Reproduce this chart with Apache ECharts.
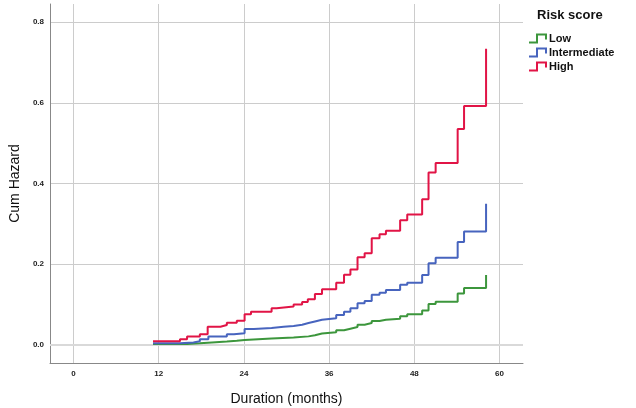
<!DOCTYPE html>
<html>
<head>
<meta charset="utf-8">
<script src="https://cdn.jsdelivr.net/npm/echarts@6/dist/echarts.min.js"></script>
<style>
  html, body { margin: 0; padding: 0; background: #fff; }
  #chart { width: 636px; height: 408px; }
</style>
</head>
<body>
<div id="chart"></div>
<script>
// month ticks and hazard ticks
const xTicks = [0, 12, 24, 36, 48, 60]
const yTicks = [0, 0.2, 0.4, 0.6, 0.8]

const groups = ['Low', 'Intermediate', 'High']
const colors = ['#3c963c', '#4764be', '#e11446']

// [month, cumulative hazard] step points
const lowData = [
  [11.2, 0.002], [16.0, 0.004], [17.8, 0.006], [19.5, 0.008], [21.6, 0.010],
  [23.0, 0.012], [24.1, 0.016], [27.9, 0.018], [31.0, 0.021], [33.1, 0.024],
  [34.0, 0.028], [35.0, 0.031], [37.0, 0.036], [38.1, 0.040], [39.0, 0.044],
  [40.0, 0.050], [41.0, 0.054], [42.0, 0.059], [43.1, 0.062], [44.0, 0.065],
  [46.0, 0.071], [47.0, 0.076], [49.1, 0.085], [50.0, 0.101], [51.0, 0.107],
  [54.1, 0.127], [55.0, 0.141], [58.1, 0.173]
]
const midData = [
  [11.2, 0.004], [15.0, 0.006], [16.9, 0.009], [17.8, 0.014], [19.0, 0.021],
  [21.6, 0.026], [22.6, 0.029], [24.1, 0.039], [25.4, 0.042], [27.9, 0.045],
  [29.6, 0.047], [31.0, 0.050], [32.2, 0.054], [33.1, 0.058], [34.0, 0.062],
  [35.0, 0.066], [37.0, 0.074], [38.1, 0.082], [39.0, 0.091], [40.0, 0.103],
  [41.0, 0.109], [42.0, 0.124], [43.1, 0.129], [44.0, 0.136], [46.0, 0.149],
  [47.0, 0.154], [49.1, 0.173], [50.0, 0.202], [51.0, 0.216], [54.1, 0.255],
  [55.0, 0.281], [58.1, 0.350]
]
const highData = [
  [11.2, 0.009], [15.0, 0.014], [16.0, 0.021], [17.8, 0.026], [18.9, 0.045],
  [20.7, 0.049], [21.6, 0.055], [23.0, 0.060], [24.1, 0.076], [25.0, 0.082],
  [27.9, 0.091], [28.6, 0.095], [31.0, 0.100], [32.2, 0.106], [33.0, 0.113],
  [34.0, 0.126], [35.0, 0.138], [37.0, 0.154], [38.1, 0.174], [39.0, 0.187],
  [40.0, 0.217], [41.0, 0.227], [42.0, 0.264], [43.1, 0.274], [44.0, 0.283],
  [46.0, 0.309], [47.0, 0.323], [49.1, 0.361], [50.0, 0.427], [51.0, 0.451],
  [54.1, 0.535], [55.0, 0.592], [58.1, 0.734]
]
const seriesData = [lowData, midData, highData]

const stepIcon = 'path://M0,8 L7,8 L7,0 L18,0 L18,6 L16,6 L16,2 L9,2 L9,10 L0,10 Z'
const tickFont = { fontFamily: 'Liberation Sans', fontWeight: 'bold', fontSize: 8, color: '#222' }
const gridLine = { color: '#cccccc', width: 1 }

const chart = echarts.init(document.getElementById('chart'))

const series = groups.map((name, i) => ({
  name: name,
  type: 'line',
  step: 'end',
  data: seriesData[i],
  showSymbol: false,
  symbol: 'none',
  lineStyle: { color: colors[i], width: 2 },
  itemStyle: { color: colors[i] },
  z: 3 + i
}))
// the zero line is drawn a bit heavier
series[0].markLine = {
  silent: true,
  symbol: 'none',
  label: { show: false },
  lineStyle: { color: '#d9d9d9', width: 2, type: 'solid' },
  data: [{ yAxis: 0 }],
  z: 1
}

chart.setOption({
  animation: false,
  backgroundColor: '#fff',
  grid: { left: 50, right: 113, top: 4, bottom: 45, outerBoundsMode: 'none', containLabel: false },
  title: {
    text: 'Risk score',
    left: 537,
    top: 9,
    padding: 0,
    textStyle: { fontFamily: 'Liberation Sans', fontWeight: 'bold', fontSize: 13, color: '#111' }
  },
  legend: {
    orient: 'vertical',
    left: 524,
    top: 28,
    itemGap: 3,
    itemWidth: 20,
    itemHeight: 10,
    icon: stepIcon,
    itemStyle: { borderWidth: 0 },
    textStyle: { fontFamily: 'Liberation Sans', fontWeight: 'bold', fontSize: 11, color: '#111', padding: [0, 0, 0, -4] },
    data: groups
  },
  xAxis: {
    type: 'value',
    min: -3.3,
    max: 63.3,
    name: 'Duration (months)',
    nameLocation: 'middle',
    nameGap: 29,
    nameTextStyle: { fontFamily: 'Liberation Sans', fontSize: 14, color: '#111' },
    axisLine: { show: true, onZero: false, lineStyle: { color: '#888', width: 1 } },
    axisTick: { show: false, customValues: xTicks },
    axisLabel: { customValues: xTicks, margin: 7, ...tickFont, formatter: v => String(v) },
    splitLine: { show: true, lineStyle: gridLine }
  },
  yAxis: {
    type: 'value',
    min: -0.045,
    max: 0.845,
    name: 'Cum Hazard',
    nameLocation: 'middle',
    nameGap: 28,
    nameTextStyle: { fontFamily: 'Liberation Sans', fontSize: 14, color: '#111' },
    axisLine: { show: true, onZero: false, lineStyle: { color: '#888', width: 1 } },
    axisTick: { show: false, customValues: yTicks },
    axisLabel: { customValues: yTicks, margin: 6, ...tickFont, formatter: v => v.toFixed(1) },
    splitLine: { show: true, lineStyle: gridLine }
  },
  series: series
})
</script>
</body>
</html>
